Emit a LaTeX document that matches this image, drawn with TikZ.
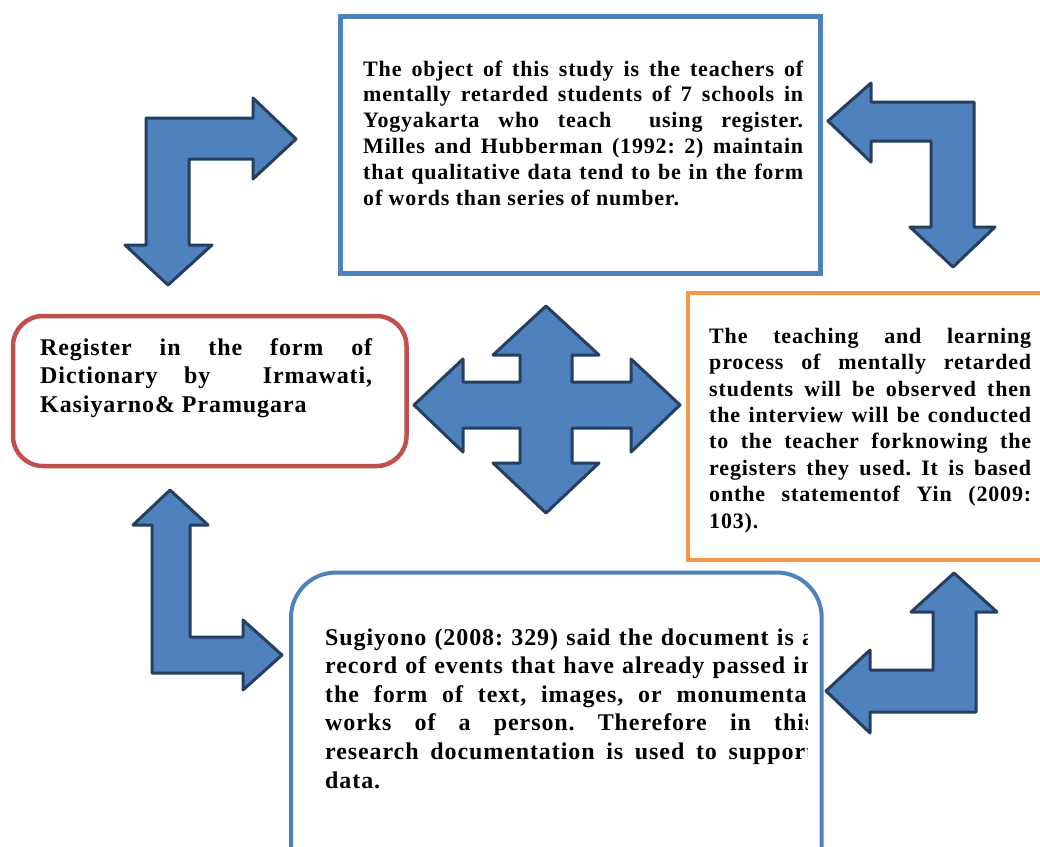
\documentclass[tikz,border=0pt]{standalone}
\usepackage{fontspec}
\setmainfont[LetterSpace=3.8]{Liberation Serif}
\definecolor{boxblue}{HTML}{4F81BD}
\definecolor{boxred}{HTML}{C0504D}
\definecolor{boxorange}{HTML}{F79646}
\definecolor{arrowfill}{HTML}{4F81BD}
\definecolor{arrowline}{HTML}{243F60}
\newcommand{\jl}[2]{\makebox[#1][s]{#2}}
\frenchspacing
\begin{document}
\begin{tikzpicture}[x=1pt,y=-1pt,
  blk/.style={fill=arrowfill, draw=arrowline, line width=3pt, line join=round},
  boxnode/.style={inner sep=0pt, outer sep=0pt, fill=white},
  txt/.style={inner sep=0pt, anchor=base west},
  smallfont/.style={font=\fontsize{22}{25.9}\selectfont\bfseries},
  bigfont/.style={font=\fontsize{24}{28.6}\selectfont\bfseries}]
\useasboundingbox[fill=white] (0,0) rectangle (1040,846);

% boxes
\node[boxnode, draw=boxblue, line width=5pt, minimum width=480pt, minimum height=257pt] (objbox) at (580.5,145) {};
\node[boxnode, draw=boxred, line width=4.5pt, rounded corners=30pt, minimum width=393.5pt, minimum height=150pt] (regbox) at (209.75,391) {};
\node[boxnode, draw=boxorange, line width=4.5pt, minimum width=372pt, minimum height=267pt] (procbox) at (874,426.5) {};
\node[boxnode, draw=boxblue, line width=4pt, rounded corners=45pt, minimum width=530.7pt, minimum height=327.5pt] (docbox) at (556.35,736.25) {};

% texts
\node[txt, smallfont] (objtext) at (363,76) {\parbox[t]{440pt}{%
\jl{440pt}{The object of this study is the teachers of}\\
\jl{440pt}{mentally retarded students of 7 schools in}\\
\jl{440pt}{Yogyakarta who teach \ using register.}\\
\jl{440pt}{Milles and Hubberman (1992: 2) maintain}\\
\jl{440pt}{that qualitative data tend to be in the form}\\
of words than series of number.}};

\node[txt, bigfont] (regtext) at (40,355) {\parbox[t]{332pt}{%
\jl{332pt}{Register in the form of}\\
\jl{332pt}{Dictionary by \ Irmawati,}\\
Kasiyarno\& Pramugara}};

\node[txt, smallfont] (proctext) at (709,343.3) {\parbox[t]{322pt}{\fontsize{22}{26.4}\selectfont
\jl{322pt}{The teaching and learning}\\
\jl{322pt}{process of mentally retarded}\\
\jl{322pt}{students will be observed then}\\
\jl{322pt}{the interview will be conducted}\\
\jl{322pt}{to the teacher forknowing the}\\
\jl{322pt}{registers they used. It is based}\\
\jl{322pt}{onthe statementof Yin (2009:}\\
103).}};

\begin{scope}
\clip (290,560) rectangle (807,846);
\node[txt, bigfont] (doctext) at (325,645) {\parbox[t]{489pt}{%
\jl{489pt}{Sugiyono (2008: 329) said the document is a}\\
\jl{489pt}{record of events that have already passed in}\\
\jl{489pt}{the form of text, images, or monumental}\\
\jl{489pt}{works of a person. Therefore in this}\\
\jl{489pt}{research documentation is used to support}\\
data.}};
\end{scope}

% block arrows
\draw[blk] (146,118) -- (253,118) -- (253,98) -- (296,139) -- (253,179) -- (253,159)
  -- (189,159) -- (189,245) -- (212,245) -- (168,285) -- (125,245) -- (146,245) -- cycle;
\draw[blk] (828,121) -- (871,83) -- (871,102) -- (974,102) -- (974,227) -- (995,227)
  -- (953,267) -- (910,227) -- (931,227) -- (931,141) -- (871,141) -- (871,162) -- cycle;
\draw[blk] (414,405) -- (463,359) -- (463,382) -- (520,382) -- (520,355) -- (493,355)
  -- (546,306) -- (599,355) -- (572,355) -- (572,382) -- (631,382) -- (631,359)
  -- (680,405) -- (631,452) -- (631,428) -- (572,428) -- (572,463) -- (599,463)
  -- (546,513) -- (493,463) -- (520,463) -- (520,428) -- (463,428) -- (463,452) -- cycle;
\draw[blk] (170,490) -- (208,525) -- (190,525) -- (190,637) -- (243,637) -- (243,620)
  -- (282,655) -- (243,690) -- (243,673) -- (152,673) -- (152,525) -- (133,525) -- cycle;
\draw[blk] (954,573) -- (997,612) -- (976,612) -- (976,712) -- (870,712) -- (870,733)
  -- (826,691) -- (870,650) -- (870,670) -- (933,670) -- (933,612) -- (911,612) -- cycle;
\end{tikzpicture}
\end{document}
